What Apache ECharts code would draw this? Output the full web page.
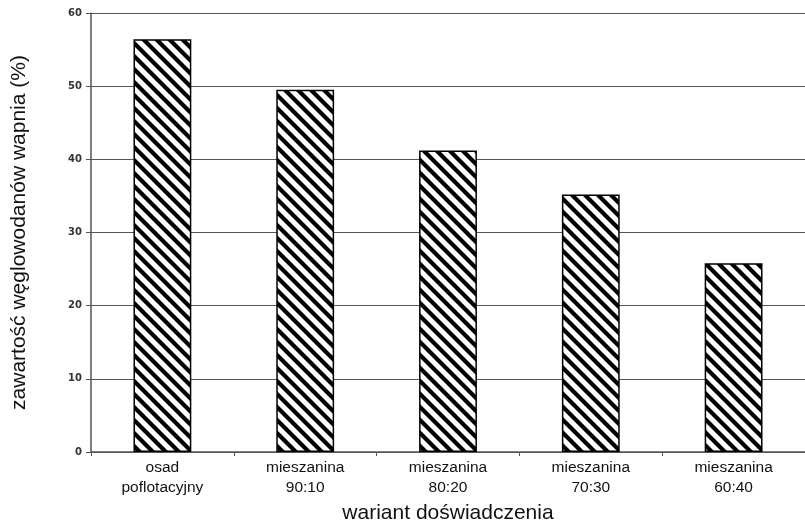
<!DOCTYPE html>
<html><head><meta charset="utf-8">
<script src="https://cdn.jsdelivr.net/npm/echarts@6/dist/echarts.min.js"></script>
<style>html,body{margin:0;padding:0;background:#fff}#c{width:805px;height:525px}</style>
</head><body><div id="c"></div>
<script>
const categories = ['osad\npoflotacyjny', 'mieszanina\n90:10', 'mieszanina\n80:20', 'mieszanina\n70:30', 'mieszanina\n60:40'];
const values = [56.4, 49.5, 41.2, 35.2, 25.8];
const yTicks = [0, 10, 20, 30, 40, 50, 60];

function makePattern() {
  const s = 13;
  const c = document.createElement('canvas');
  c.width = s; c.height = s;
  const g = c.getContext('2d');
  g.fillStyle = '#fff'; g.fillRect(0, 0, s, s);
  g.strokeStyle = '#000'; g.lineWidth = 4.2;
  g.beginPath();
  for (let k = -1; k <= 1; k++) {
    g.moveTo(k * s - 3, -3); g.lineTo(k * s + s + 3, s + 3);
  }
  g.stroke();
  return c;
}

const chart = echarts.init(document.getElementById('c'), null, {renderer: 'canvas'});
chart.setOption({
  animation: false,
  grid: {left: 91, right: 0, top: 13, bottom: 73, containLabel: false, outerBoundsMode: 'none'},
  xAxis: {
    type: 'category', data: categories,
    name: 'wariant doświadczenia', nameLocation: 'middle', nameGap: 47,
    nameTextStyle: {fontFamily: 'Liberation Sans', fontSize: 21, color: '#111'},
    axisLine: {lineStyle: {color: '#555', width: 1.5}},
    axisTick: {show: true, length: 4, lineStyle: {color: '#555'}},
    axisLabel: {fontFamily: 'Liberation Sans', fontSize: 15.5, color: '#111', lineHeight: 20, margin: 6}
  },
  yAxis: {
    type: 'value', min: yTicks[0], max: yTicks[yTicks.length - 1], interval: 10,
    name: 'zawartość węglowodanów wapnia (%)', nameLocation: 'middle', nameGap: 61,
    nameTextStyle: {fontFamily: 'Liberation Sans', fontSize: 21, color: '#111'},
    axisLine: {show: true, lineStyle: {color: '#555', width: 1.5}},
    axisTick: {show: true, length: 5, lineStyle: {color: '#555'}},
    axisLabel: {fontFamily: 'DejaVu Sans', fontSize: 10, fontWeight: 'bold', color: '#333', margin: 9},
    splitLine: {show: true, lineStyle: {color: '#555', width: 1}}
  },
  series: [{
    type: 'bar', data: values, barWidth: '40.5%',
    itemStyle: {color: {image: makePattern(), repeat: 'repeat'}, borderColor: '#000', borderWidth: 1.5}
  }]
});
</script></body></html>
